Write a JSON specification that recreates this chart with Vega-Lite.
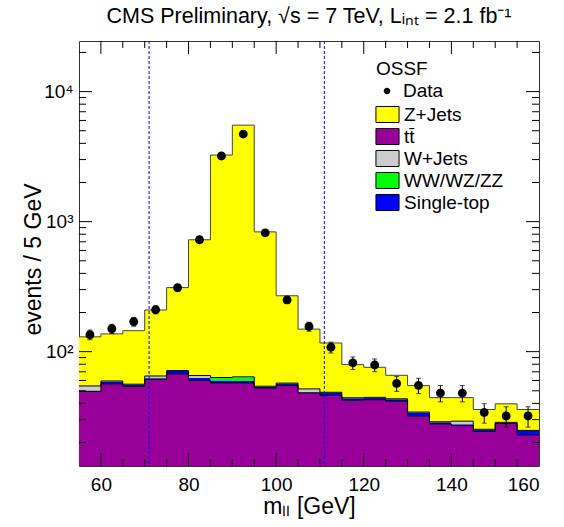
{
  "$schema": "https://vega.github.io/schema/vega-lite/v6.json",
  "width": 460,
  "height": 425,
  "autosize": "none",
  "padding": {"left": 79, "top": 41, "right": 25, "bottom": 61},
  "background": "white",
  "title": {
    "text": "CMS Preliminary, √s = 7 TeV, Lᵢₙₜ = 2.1 fb⁻¹",
    "font": "Liberation Sans",
    "fontSize": 21.5,
    "fontWeight": "normal",
    "color": "black",
    "anchor": "middle",
    "offset": 13
  },
  "config": {
    "view": {"stroke": "#333", "strokeWidth": 1},
    "axis": {
      "domain": false,
      "grid": false,
      "ticks": false,
      "labelFont": "Liberation Sans",
      "labelFontSize": 19,
      "labelColor": "black",
      "titleFont": "Liberation Sans",
      "titleFontSize": 23,
      "titleFontWeight": "normal",
      "titleColor": "black"
    },
    "legend": {
      "labelFont": "Liberation Sans",
      "labelFontSize": 19,
      "labelColor": "black",
      "titleFont": "Liberation Sans",
      "titleFontSize": 19,
      "titleFontWeight": "normal",
      "titleColor": "black",
      "padding": 0
    }
  },
  "datasets": {
    "bins": [
      {"c": 57.5, "n": 135, "elo": 123.4, "ehi": 146.6},
      {"c": 62.5, "n": 150, "elo": 137.8, "ehi": 162.2},
      {"c": 67.5, "n": 170, "elo": 157.0, "ehi": 183.0},
      {"c": 72.5, "n": 210, "elo": 195.5, "ehi": 224.5},
      {"c": 77.5, "n": 310, "elo": 292.4, "ehi": 327.6},
      {"c": 82.5, "n": 725, "elo": 698.1, "ehi": 751.9},
      {"c": 87.5, "n": 3200, "elo": 3143.4, "ehi": 3256.6},
      {"c": 92.5, "n": 4710, "elo": 4641.4, "ehi": 4778.6},
      {"c": 97.5, "n": 820, "elo": 791.4, "ehi": 848.6},
      {"c": 102.5, "n": 250, "elo": 234.2, "ehi": 265.8},
      {"c": 107.5, "n": 156, "elo": 143.5, "ehi": 168.5},
      {"c": 112.5, "n": 108, "elo": 97.6, "ehi": 118.4},
      {"c": 117.5, "n": 82, "elo": 72.9, "ehi": 91.1},
      {"c": 122.5, "n": 79, "elo": 70.1, "ehi": 87.9},
      {"c": 127.5, "n": 57, "elo": 49.5, "ehi": 64.5},
      {"c": 132.5, "n": 55, "elo": 47.6, "ehi": 62.4},
      {"c": 137.5, "n": 48, "elo": 41.1, "ehi": 54.9},
      {"c": 142.5, "n": 48, "elo": 41.1, "ehi": 54.9},
      {"c": 147.5, "n": 34, "elo": 28.2, "ehi": 39.8},
      {"c": 152.5, "n": 32, "elo": 26.3, "ehi": 37.7},
      {"c": 157.5, "n": 32, "elo": 26.3, "ehi": 37.7}
    ],
    "edges": [
      {"x": 55, "tt": 49.5, "st": 50.0, "vv": 50.2, "wj": 54.5, "tot": 130},
      {"x": 60, "tt": 56.5, "st": 59.0, "vv": 59.3, "wj": 59.5, "tot": 137},
      {"x": 65, "tt": 54.0, "st": 55.8, "vv": 56.0, "wj": 56.2, "tot": 145},
      {"x": 70, "tt": 61.3, "st": 62.3, "vv": 62.6, "wj": 65.0, "tot": 209},
      {"x": 75, "tt": 67.4, "st": 70.9, "vv": 71.2, "wj": 71.5, "tot": 311},
      {"x": 80, "tt": 60.2, "st": 62.8, "vv": 63.0, "wj": 65.5, "tot": 725},
      {"x": 85, "tt": 57.5, "st": 59.9, "vv": 62.8, "wj": 63.3, "tot": 3250},
      {"x": 90, "tt": 57.5, "st": 59.6, "vv": 63.5, "wj": 64.0, "tot": 5520},
      {"x": 95, "tt": 52.6, "st": 53.5, "vv": 53.8, "wj": 54.2, "tot": 834},
      {"x": 100, "tt": 54.9, "st": 56.9, "vv": 57.1, "wj": 57.3, "tot": 269},
      {"x": 105, "tt": 48.2, "st": 48.8, "vv": 49.0, "wj": 51.7, "tot": 149},
      {"x": 110, "tt": 46.0, "st": 48.2, "vv": 48.5, "wj": 48.7, "tot": 116.6},
      {"x": 115, "tt": 42.3, "st": 43.9, "vv": 44.1, "wj": 44.2, "tot": 79.5},
      {"x": 120, "tt": 42.7, "st": 44.2, "vv": 44.4, "wj": 44.5, "tot": 75.8},
      {"x": 125, "tt": 41.6, "st": 43.1, "vv": 43.3, "wj": 43.4, "tot": 65.8},
      {"x": 130, "tt": 31.9, "st": 34.1, "vv": 34.2, "wj": 34.3, "tot": 54.8},
      {"x": 135, "tt": 27.8, "st": 28.7, "vv": 28.8, "wj": 28.9, "tot": 44.3},
      {"x": 140, "tt": 27.0, "st": 27.6, "vv": 27.7, "wj": 29.2, "tot": 44.3},
      {"x": 145, "tt": 24.3, "st": 25.1, "vv": 25.2, "wj": 25.3, "tot": 35.9},
      {"x": 150, "tt": 28.0, "st": 28.4, "vv": 28.5, "wj": 28.6, "tot": 39.7},
      {"x": 155, "tt": 22.8, "st": 24.6, "vv": 24.7, "wj": 24.8, "tot": 35.9},
      {"x": 160, "tt": 22.8, "st": 24.6, "vv": 24.7, "wj": 24.8, "tot": 35.9}
    ],
    "window": [{"m": 71}, {"m": 111}],
    "xticks": [
      {"v": 60, "b0": 13.2, "b1": 16.6, "t0": 24500, "t1": 19475},
      {"v": 65, "b0": 13.2, "b1": 14.93, "t0": 24500, "t1": 21660},
      {"v": 70, "b0": 13.2, "b1": 14.93, "t0": 24500, "t1": 21660},
      {"v": 75, "b0": 13.2, "b1": 14.93, "t0": 24500, "t1": 21660},
      {"v": 80, "b0": 13.2, "b1": 16.6, "t0": 24500, "t1": 19475},
      {"v": 85, "b0": 13.2, "b1": 14.93, "t0": 24500, "t1": 21660},
      {"v": 90, "b0": 13.2, "b1": 14.93, "t0": 24500, "t1": 21660},
      {"v": 95, "b0": 13.2, "b1": 14.93, "t0": 24500, "t1": 21660},
      {"v": 100, "b0": 13.2, "b1": 16.6, "t0": 24500, "t1": 19475},
      {"v": 105, "b0": 13.2, "b1": 14.93, "t0": 24500, "t1": 21660},
      {"v": 110, "b0": 13.2, "b1": 14.93, "t0": 24500, "t1": 21660},
      {"v": 115, "b0": 13.2, "b1": 14.93, "t0": 24500, "t1": 21660},
      {"v": 120, "b0": 13.2, "b1": 16.6, "t0": 24500, "t1": 19475},
      {"v": 125, "b0": 13.2, "b1": 14.93, "t0": 24500, "t1": 21660},
      {"v": 130, "b0": 13.2, "b1": 14.93, "t0": 24500, "t1": 21660},
      {"v": 135, "b0": 13.2, "b1": 14.93, "t0": 24500, "t1": 21660},
      {"v": 140, "b0": 13.2, "b1": 16.6, "t0": 24500, "t1": 19475},
      {"v": 145, "b0": 13.2, "b1": 14.93, "t0": 24500, "t1": 21660},
      {"v": 150, "b0": 13.2, "b1": 14.93, "t0": 24500, "t1": 21660},
      {"v": 155, "b0": 13.2, "b1": 14.93, "t0": 24500, "t1": 21660}
    ],
    "yticks": [
      {"v": 20, "l0": 55, "l1": 56.6, "r0": 160, "r1": 158.4},
      {"v": 30, "l0": 55, "l1": 56.6, "r0": 160, "r1": 158.4},
      {"v": 40, "l0": 55, "l1": 56.6, "r0": 160, "r1": 158.4},
      {"v": 50, "l0": 55, "l1": 56.6, "r0": 160, "r1": 158.4},
      {"v": 60, "l0": 55, "l1": 56.6, "r0": 160, "r1": 158.4},
      {"v": 70, "l0": 55, "l1": 56.6, "r0": 160, "r1": 158.4},
      {"v": 80, "l0": 55, "l1": 56.6, "r0": 160, "r1": 158.4},
      {"v": 90, "l0": 55, "l1": 56.6, "r0": 160, "r1": 158.4},
      {"v": 100, "l0": 55, "l1": 57.97, "r0": 160, "r1": 157.03},
      {"v": 200, "l0": 55, "l1": 56.6, "r0": 160, "r1": 158.4},
      {"v": 300, "l0": 55, "l1": 56.6, "r0": 160, "r1": 158.4},
      {"v": 400, "l0": 55, "l1": 56.6, "r0": 160, "r1": 158.4},
      {"v": 500, "l0": 55, "l1": 56.6, "r0": 160, "r1": 158.4},
      {"v": 600, "l0": 55, "l1": 56.6, "r0": 160, "r1": 158.4},
      {"v": 700, "l0": 55, "l1": 56.6, "r0": 160, "r1": 158.4},
      {"v": 800, "l0": 55, "l1": 56.6, "r0": 160, "r1": 158.4},
      {"v": 900, "l0": 55, "l1": 56.6, "r0": 160, "r1": 158.4},
      {"v": 1000, "l0": 55, "l1": 57.97, "r0": 160, "r1": 157.03},
      {"v": 2000, "l0": 55, "l1": 56.6, "r0": 160, "r1": 158.4},
      {"v": 3000, "l0": 55, "l1": 56.6, "r0": 160, "r1": 158.4},
      {"v": 4000, "l0": 55, "l1": 56.6, "r0": 160, "r1": 158.4},
      {"v": 5000, "l0": 55, "l1": 56.6, "r0": 160, "r1": 158.4},
      {"v": 6000, "l0": 55, "l1": 56.6, "r0": 160, "r1": 158.4},
      {"v": 7000, "l0": 55, "l1": 56.6, "r0": 160, "r1": 158.4},
      {"v": 8000, "l0": 55, "l1": 56.6, "r0": 160, "r1": 158.4},
      {"v": 9000, "l0": 55, "l1": 56.6, "r0": 160, "r1": 158.4},
      {"v": 10000, "l0": 55, "l1": 57.97, "r0": 160, "r1": 157.03},
      {"v": 20000, "l0": 55, "l1": 56.6, "r0": 160, "r1": 158.4}
    ]
  },
  "layer": [
    {
      "data": {"name": "edges"},
      "mark": {"type": "area", "interpolate": "step-after", "clip": true, "opacity": 1},
      "encoding": {
        "x": {
          "field": "x", "type": "quantitative",
          "scale": {"domain": [55, 160], "nice": false, "zero": false},
          "axis": {"orient": "bottom", "values": [60, 80, 100, 120, 140, 160], "labelPadding": 9, "title": "mₗₗ [GeV]", "titleBaseline": "alphabetic", "titleY": 47}
        },
        "y": {
          "field": "tt", "type": "quantitative",
          "scale": {"type": "log", "domain": [13.2, 24500], "nice": false},
          "axis": {"orient": "left", "values": [100, 1000, 10000], "labelPadding": 6, "labelExpr": "datum.value == 100 ? '10²' : datum.value == 1000 ? '10³' : '10⁴'", "title": "events / 5 GeV", "titleBaseline": "alphabetic", "titleX": -39, "titleY": 218}
        },
        "y2": {"datum": 1},
        "color": {
          "datum": "tt̄",
          "scale": {"domain": ["Z+Jets", "tt̄", "W+Jets", "WW/WZ/ZZ", "Single-top"], "range": ["#ffff00", "#990099", "#cccccc", "#00ff00", "#0000ff"]},
          "legend": {"orient": "none", "legendX": 297, "legendY": 62, "title": null, "symbolType": "M-1.05,-0.73H1.05V0.73H-1.05Z", "symbolSize": 484, "symbolStrokeColor": "black", "symbolStrokeWidth": 1, "symbolOpacity": 1, "labelOffset": 5, "rowPadding": 0}
        }
      }
    },
    {
      "data": {"name": "edges"},
      "mark": {"type": "area", "interpolate": "step-after", "clip": true, "opacity": 1},
      "encoding": {
        "x": {"field": "x", "type": "quantitative", "axis": null},
        "y": {"field": "st", "type": "quantitative", "axis": null},
        "y2": {"field": "tt"},
        "color": {"datum": "Single-top"}
      }
    },
    {
      "data": {"name": "edges"},
      "mark": {"type": "area", "interpolate": "step-after", "clip": true, "opacity": 1},
      "encoding": {
        "x": {"field": "x", "type": "quantitative", "axis": null},
        "y": {"field": "vv", "type": "quantitative", "axis": null},
        "y2": {"field": "st"},
        "color": {"datum": "WW/WZ/ZZ"}
      }
    },
    {
      "data": {"name": "edges"},
      "mark": {"type": "area", "interpolate": "step-after", "clip": true, "opacity": 1},
      "encoding": {
        "x": {"field": "x", "type": "quantitative", "axis": null},
        "y": {"field": "wj", "type": "quantitative", "axis": null},
        "y2": {"field": "vv"},
        "color": {"datum": "W+Jets"}
      }
    },
    {
      "data": {"name": "edges"},
      "mark": {"type": "area", "interpolate": "step-after", "clip": true, "opacity": 1},
      "encoding": {
        "x": {"field": "x", "type": "quantitative", "axis": null},
        "y": {"field": "tot", "type": "quantitative", "axis": null},
        "y2": {"field": "wj"},
        "color": {"datum": "Z+Jets"}
      }
    },
    {
      "data": {"name": "edges"},
      "mark": {"type": "line", "interpolate": "step-after", "color": "black", "strokeWidth": 1, "clip": true},
      "encoding": {
        "x": {"field": "x", "type": "quantitative", "axis": null},
        "y": {"field": "tt", "type": "quantitative", "axis": null}
      }
    },
    {
      "data": {"name": "edges"},
      "mark": {"type": "line", "interpolate": "step-after", "color": "black", "strokeWidth": 1, "clip": true},
      "encoding": {
        "x": {"field": "x", "type": "quantitative", "axis": null},
        "y": {"field": "wj", "type": "quantitative", "axis": null}
      }
    },
    {
      "data": {"name": "edges"},
      "mark": {"type": "line", "interpolate": "step-after", "color": "#444", "strokeWidth": 1, "clip": true},
      "encoding": {
        "x": {"field": "x", "type": "quantitative", "axis": null},
        "y": {"field": "tot", "type": "quantitative", "axis": null}
      }
    },
    {
      "data": {"name": "xticks"},
      "mark": {"type": "rule", "color": "black", "strokeWidth": 1},
      "encoding": {
        "x": {"field": "v", "type": "quantitative", "axis": null},
        "y": {"field": "b0", "type": "quantitative", "axis": null},
        "y2": {"field": "b1"}
      }
    },
    {
      "data": {"name": "xticks"},
      "mark": {"type": "rule", "color": "black", "strokeWidth": 1},
      "encoding": {
        "x": {"field": "v", "type": "quantitative", "axis": null},
        "y": {"field": "t0", "type": "quantitative", "axis": null},
        "y2": {"field": "t1"}
      }
    },
    {
      "data": {"name": "yticks"},
      "mark": {"type": "rule", "color": "black", "strokeWidth": 1},
      "encoding": {
        "y": {"field": "v", "type": "quantitative", "axis": null},
        "x": {"field": "l0", "type": "quantitative", "axis": null},
        "x2": {"field": "l1"}
      }
    },
    {
      "data": {"name": "yticks"},
      "mark": {"type": "rule", "color": "black", "strokeWidth": 1},
      "encoding": {
        "y": {"field": "v", "type": "quantitative", "axis": null},
        "x": {"field": "r0", "type": "quantitative", "axis": null},
        "x2": {"field": "r1"}
      }
    },
    {
      "data": {"name": "window"},
      "mark": {"type": "rule", "color": "#0000ff", "strokeWidth": 1, "strokeDash": [3, 2]},
      "encoding": {
        "x": {"field": "m", "type": "quantitative", "axis": null}
      }
    },
    {
      "data": {"name": "bins"},
      "mark": {"type": "rule", "color": "black", "strokeWidth": 1},
      "encoding": {
        "x": {"field": "c", "type": "quantitative", "axis": null},
        "y": {"field": "elo", "type": "quantitative", "axis": null},
        "y2": {"field": "ehi"}
      }
    },
    {
      "data": {"name": "bins"},
      "mark": {"type": "tick", "orient": "horizontal", "color": "black", "size": 5, "thickness": 1},
      "encoding": {
        "x": {"field": "c", "type": "quantitative", "axis": null},
        "y": {"field": "elo", "type": "quantitative", "axis": null}
      }
    },
    {
      "data": {"name": "bins"},
      "mark": {"type": "tick", "orient": "horizontal", "color": "black", "size": 5, "thickness": 1},
      "encoding": {
        "x": {"field": "c", "type": "quantitative", "axis": null},
        "y": {"field": "ehi", "type": "quantitative", "axis": null}
      }
    },
    {
      "data": {"name": "bins"},
      "mark": {"type": "point", "filled": true, "color": "black", "opacity": 1, "size": 880},
      "encoding": {
        "x": {"field": "c", "type": "quantitative", "axis": null},
        "y": {"field": "n", "type": "quantitative", "axis": null},
        "shape": {
          "datum": "Data",
          "scale": {"domain": ["Data"], "range": ["M-0.3,0A0.3,0.3 0 1,0 0.3,0A0.3,0.3 0 1,0 -0.3,0Z"]},
          "legend": {"orient": "none", "legendX": 297, "legendY": 19, "title": "OSSF", "titlePadding": 1, "symbolSize": 484, "symbolFillColor": "black", "symbolStrokeColor": "black", "symbolStrokeWidth": 0, "symbolOpacity": 1, "labelOffset": 5}
        }
      }
    }
  ],
  "resolve": {"axis": {"x": "independent", "y": "independent"}}
}
